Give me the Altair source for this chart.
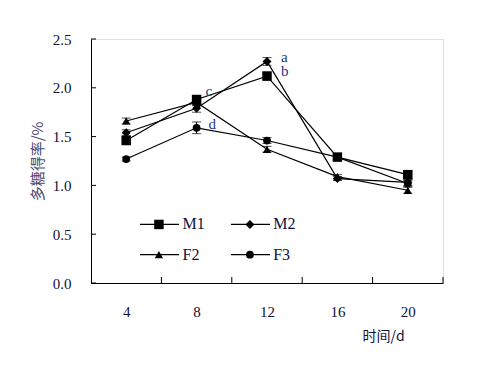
import altair as alt
import pandas as pd

days = [4, 8, 12, 16, 20]
series = ["M1", "M2", "F2", "F3"]
shapes = ["square", "diamond", "triangle-up", "circle"]
sizes = [90, 60, 75, 85]
M1 = [1.46, 1.88, 2.12, 1.29, 1.11]
M2 = [1.54, 1.79, 2.27, 1.07, 1.03]
F2 = [1.66, 1.85, 1.37, 1.09, 0.95]
F3 = [1.27, 1.59, 1.46, 1.29, 1.02]
M1_err = [0.03, 0.04, 0.04, 0.03, 0.03]
M2_err = [0.03, 0.04, 0.04, 0.02, 0.03]
F2_err = [0.03, 0.03, 0.03, 0.02, 0.03]
F3_err = [0.02, 0.06, 0.03, 0.03, 0.03]
y_ticks = [0.0, 0.5, 1.0, 1.5, 2.0, 2.5]
x_tick_bounds = [6, 10, 14, 18, 22]
letters = ["a", "b", "c", "d"]
letter_x = [12, 12, 8, 8]
letter_y = [2.32, 2.17, 1.97, 1.63]
letter_dx = [14, 14, 9, 12]

W, H = 352, 244
SERIF = "Liberation Serif"
CJK = "Noto Sans CJK SC"
TXT = "#10103a"
LET = "#1c3384"

vals = {"M1": (M1, M1_err), "M2": (M2, M2_err), "F2": (F2, F2_err), "F3": (F3, F3_err)}
rows = []
for s in series:
    v, e = vals[s]
    for d, yv, ev in zip(days, v, e):
        rows.append({"day": d, "val": yv, "lo": yv - ev, "hi": yv + ev, "s": s})
df = pd.DataFrame(rows)

# legend table (2 x 2)
leg_rows = []
col_x = [(4.78, 7.0, 5.86, 7.2), (9.95, 12.17, 11.03, 12.35)]
row_y = [0.60, 0.29]
for i, s in enumerate(series):
    c = col_x[i % 2]
    r = row_y[i // 2]
    leg_rows.append({"s": s, "x1": c[0], "x2": c[1], "xm": c[2], "xt": c[3], "y": r, "label": s})
leg = pd.DataFrame(leg_rows)

xs = alt.Scale(domain=[2, 22], nice=False, zero=False)
ys = alt.Scale(domain=[0, 2.5], nice=False)
shape_scale = alt.Scale(domain=series, range=shapes)
size_scale = alt.Scale(domain=series, range=sizes)

x_axis = alt.Axis(
    values=x_tick_bounds, labelExpr="datum.value - 2", labelOffset=-W / 10,
    labelFlush=False, labelOverlap=False, ticks=False, tickSize=0, grid=False,
    domainColor="black", domainWidth=1, labelFont=SERIF, labelFontSize=15,
    labelColor=TXT, labelPadding=21, title="时间/d", titleFont=CJK,
    titleFontSize=14, titleFontWeight="normal", titleColor=TXT,
    titleAnchor="start", titleX=271, titleY=46, titleBaseline="top", titleAlign="left",
)
y_axis = alt.Axis(
    values=y_ticks, format=".1f", ticks=False, tickSize=0, grid=False,
    domainColor="black", domainWidth=1, labelFont=SERIF, labelFontSize=15,
    labelColor=TXT, labelPadding=20, title="多糖得率/%", titleFont=CJK,
    titleFontSize=15, titleFontWeight="normal", titleColor="#4a4a72",
    titleX=-54, titleY=H / 2, titleAngle=-90, titleAlign="center", titleBaseline="middle",
)

base = alt.Chart(df)
lines = base.mark_line(color="black", strokeWidth=1.2).encode(
    x=alt.X("day:Q", scale=xs, axis=x_axis),
    y=alt.Y("val:Q", scale=ys, axis=y_axis),
    detail="s:N",
)
err = base.mark_rule(color="black", strokeWidth=1).encode(
    x=alt.X("day:Q", scale=xs), y=alt.Y("lo:Q", scale=ys), y2="hi:Q"
)
cap_lo = base.mark_tick(color="black", thickness=1, size=9, orient="horizontal").encode(
    x=alt.X("day:Q", scale=xs), y=alt.Y("lo:Q", scale=ys)
)
cap_hi = base.mark_tick(color="black", thickness=1, size=9, orient="horizontal").encode(
    x=alt.X("day:Q", scale=xs), y=alt.Y("hi:Q", scale=ys)
)
pts = base.mark_point(filled=True, color="black", opacity=1).encode(
    x=alt.X("day:Q", scale=xs),
    y=alt.Y("val:Q", scale=ys),
    shape=alt.Shape("s:N", scale=shape_scale, legend=None),
    size=alt.Size("s:N", scale=size_scale, legend=None),
)

let_df = pd.DataFrame({"t": letters, "x": letter_x, "y": letter_y})
let_layers = []
for i in range(len(letters)):
    let_layers.append(
        alt.Chart(let_df.iloc[[i]]).mark_text(
            font=SERIF, fontSize=15, color=LET, align="left", baseline="middle", dx=letter_dx[i]
        ).encode(x=alt.X("x:Q", scale=xs), y=alt.Y("y:Q", scale=ys), text="t:N")
    )

lb = alt.Chart(leg)
leg_line = lb.mark_rule(color="black", strokeWidth=1.2).encode(
    x=alt.X("x1:Q", scale=xs), x2="x2:Q", y=alt.Y("y:Q", scale=ys)
)
leg_pt = lb.mark_point(filled=True, color="black", opacity=1).encode(
    x=alt.X("xm:Q", scale=xs), y=alt.Y("y:Q", scale=ys),
    shape=alt.Shape("s:N", scale=shape_scale, legend=None),
    size=alt.Size("s:N", scale=size_scale, legend=None),
)
leg_txt = lb.mark_text(font=SERIF, fontSize=16, color=TXT, align="left", baseline="middle").encode(
    x=alt.X("xt:Q", scale=xs), y=alt.Y("y:Q", scale=ys), text="label:N"
)

yt = alt.Chart(pd.DataFrame({"v": y_ticks})).mark_rule(color="black", strokeWidth=1).encode(
    y=alt.Y("v:Q", scale=ys), x=alt.value(0), x2=alt.value(5)
)
xt = alt.Chart(pd.DataFrame({"v": x_tick_bounds})).mark_rule(color="black", strokeWidth=1).encode(
    x=alt.X("v:Q", scale=xs), y=alt.value(H), y2=alt.value(H - 6)
)

chart = alt.layer(
    lines, err, cap_lo, cap_hi, pts, *let_layers, leg_line, leg_pt, leg_txt, yt, xt
).properties(
    width=W, height=H,
    autosize=alt.AutoSizeParams(type="none"),
    padding={"left": 83, "top": 31, "right": 25, "bottom": 72},
).configure_view(stroke=None).configure(background="white")

chart.save("out.html", embed_options={"renderer": "svg", "actions": False})
